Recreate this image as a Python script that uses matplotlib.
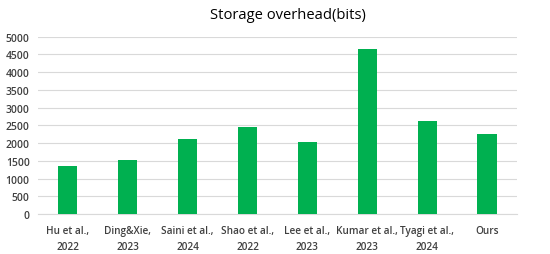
import matplotlib
matplotlib.use("Agg")
import matplotlib.pyplot as plt

# values
methods = ["Hu et al.,\n2022", "Ding&Xie,\n2023", "Saini et al.,\n2024", "Shao et al.,\n2022",
           "Lee et al.,\n2023", "Kumar et al.,\n2023", "Tyagi et al.,\n2024", "Ours"]
storage_bits = [1360, 1530, 2130, 2470, 2045, 4655, 2635, 2260]
yticks = [0, 500, 1000, 1500, 2000, 2500, 3000, 3500, 4000, 4500, 5000]

plt.rcParams['font.family'] = ['Open Sans', 'DejaVu Sans']

fig = plt.figure(figsize=(5.5, 2.55), dpi=100)
ax = fig.add_axes([0.069, 0.156, 0.871, 0.696])

x = range(len(methods))
ax.bar(x, storage_bits, width=0.32, color="#00B050", zorder=3)

ax.set_xlim(-0.5, len(methods) - 0.5)
ax.set_ylim(0, 5000)
ax.set_yticks(yticks)
ax.set_xticks(list(x))
ax.set_xticklabels(methods, fontsize=7.2, color="#404040", fontweight="semibold",
                   linespacing=1.55)
ax.set_yticklabels([str(t) for t in yticks], fontsize=7.5, color="#404040", fontweight="semibold")

ax.grid(axis="y", color="#D9D9D9", linewidth=0.8, zorder=0)
for s in ["top", "right", "left"]:
    ax.spines[s].set_visible(False)
ax.spines["bottom"].set_color("#D9D9D9")
ax.tick_params(axis="both", length=0)
ax.tick_params(axis="x", pad=8)
ax.tick_params(axis="y", pad=6)

fig.text(0.523, 0.938, "Storage overhead(bits)", ha="center", va="center", fontsize=10.6, color="#000000")

fig.savefig("out.png", dpi=100)
